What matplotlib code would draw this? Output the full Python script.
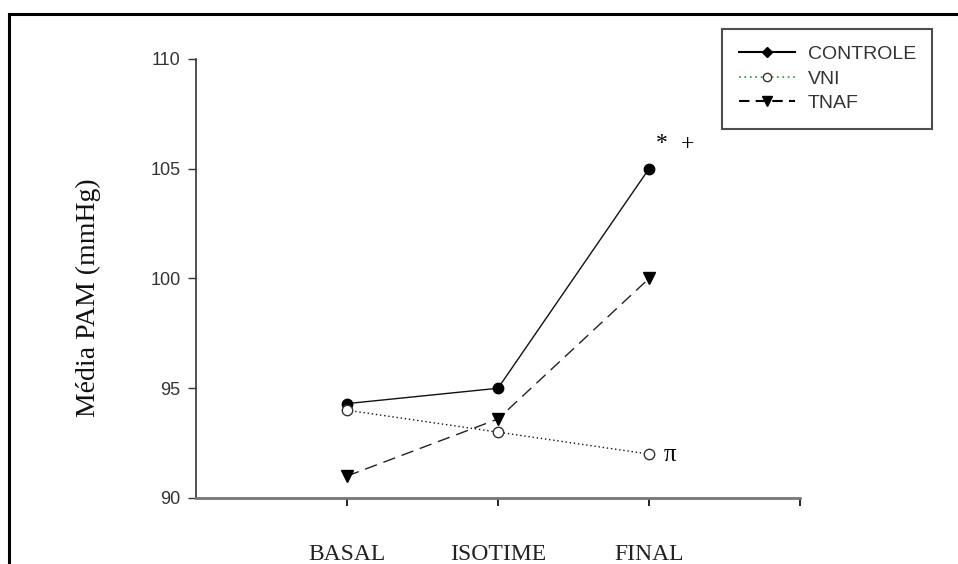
import matplotlib.pyplot as plt
from matplotlib.lines import Line2D

# dados
momentos = ['BASAL', 'ISOTIME', 'FINAL']
controle = [94.3, 95.0, 105.0]
vni = [94.0, 93.0, 92.0]
tnaf = [91.0, 93.6, 100.0]

W, H = 958, 564
fig = plt.figure(figsize=(W / 100, H / 100), dpi=100)
ax = fig.add_axes([196 / W, 1 - 498 / H, (800 - 196) / W, (498 - 59) / H])

x = [1, 2, 3]
ax.plot(x, controle, color='#111111', lw=1.0, marker='o', ms=7.5, mfc='black', mec='black')
ax.plot(x, vni, color='#111111', lw=1.0, ls=(0, (1, 2)), marker='o', ms=7.5, mfc='white', mec='#333333', mew=1.0)
ax.plot(x, tnaf, color='#222222', lw=1.0, ls=(0, (9, 5)), marker='v', ms=8.5, mfc='black', mec='black')

ax.set_xlim(0, 4)
ax.set_ylim(90, 110)
ax.set_yticks([90, 95, 100, 105, 110])
ax.set_xticks([1, 2, 3, 4])
ax.set_xticklabels([])
ax.tick_params(axis='y', direction='out', length=6, width=1, pad=5, labelsize=13, colors='#333333')
ax.tick_params(axis='x', direction='out', length=6, width=1.2, color='black')
for s in ['top', 'right']:
    ax.spines[s].set_visible(False)
ax.spines['left'].set_color('#333333')
ax.spines['left'].set_linewidth(1.2)
ax.spines['bottom'].set_color('#777777')
ax.spines['bottom'].set_linewidth(2)
for lab in ax.get_yticklabels():
    lab.set_family('Liberation Sans')

# rótulos das categorias
for i, m in enumerate(momentos):
    ax.annotate(m, xy=(x[i], 90), xycoords='data', xytext=(0, -57), textcoords='offset pixels',
                ha='center', va='center', fontsize=17, family='Liberation Serif', color='#222222',
                annotation_clip=False)

fig.text(88 / W, 1 - 298 / H, 'Média PAM (mmHg)', rotation=90, ha='center', va='center',
         fontsize=20, family='Liberation Serif', color='#111111')

# marcas de significância
ax.annotate('*', xy=(3, 105), xytext=(13, 25), textcoords='offset pixels', ha='center', va='center',
            fontsize=17, family='Liberation Serif')
ax.annotate('+', xy=(3, 105), xytext=(38, 24), textcoords='offset pixels', ha='center', va='center',
            fontsize=17, family='Liberation Serif')
ax.annotate('π', xy=(3, 92), xytext=(21, -1), textcoords='offset pixels', ha='center', va='center',
            fontsize=18, family='Liberation Serif')

# legenda
handles = [
    Line2D([], [], color='black', lw=1.5, marker='D', ms=5, mfc='black', mec='black'),
    Line2D([], [], color='#33aa33', lw=1.3, ls=(0, (1, 2)), marker='o', ms=6, mfc='white', mec='#333333'),
    Line2D([], [], color='black', lw=1.5, ls=(0, (5, 3)), marker='v', ms=7, mfc='black', mec='black'),
]
leg = fig.legend(handles, ['CONTROLE', 'VNI', 'TNAF'], loc='upper left',
                 bbox_to_anchor=(722 / W, 1 - 29 / H), borderaxespad=0, fancybox=False,
                 handlelength=2.9, handletextpad=0.65, labelspacing=0.35, borderpad=0.85,
                 prop={'family': 'Liberation Sans', 'size': 14})
leg.get_frame().set_edgecolor('#222222')
leg.get_frame().set_linewidth(1.5)
for t in leg.get_texts():
    t.set_color('#333333')

# moldura da figura (topo e esquerda)
fig.add_artist(Line2D([9 / W, 1], [1 - 14 / H, 1 - 14 / H], color='black', lw=2.2, transform=fig.transFigure))
fig.add_artist(Line2D([9 / W, 9 / W], [0, 1 - 14 / H], color='black', lw=2.2, transform=fig.transFigure))

fig.savefig('out.png', dpi=100)
